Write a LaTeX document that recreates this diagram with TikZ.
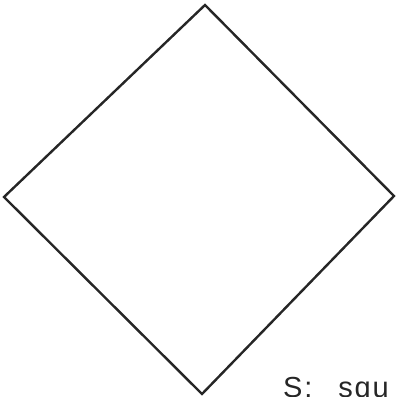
\documentclass[tikz,border=0pt]{standalone}
\usepackage{fontspec}
\setmainfont{Liberation Sans}
\usetikzlibrary{positioning}

\begin{document}
\begin{tikzpicture}[
    x=1pt, y=-1pt,
    edge/.style={draw=black!85, line width=2.4pt, line join=miter},
    caption/.style={font=\fontsize{29}{32}\selectfont\addfontfeature{LetterSpace=6}, text=black!85, inner sep=0pt, anchor=base west}
  ]
    \useasboundingbox (0,0) rectangle (397,397);
    % corners of the square
    \coordinate (top) at (205,5);
    \coordinate (right) at (394,196);
    \coordinate (bottom) at (202,394);
    \coordinate (left) at (4,197);
    \draw[edge] (top) -- (right) -- (bottom) -- (left) -- cycle;
    \node[caption] (label) at (283,397) {S:\hspace{0.9em}squ};
  \end{tikzpicture}
\end{document}
